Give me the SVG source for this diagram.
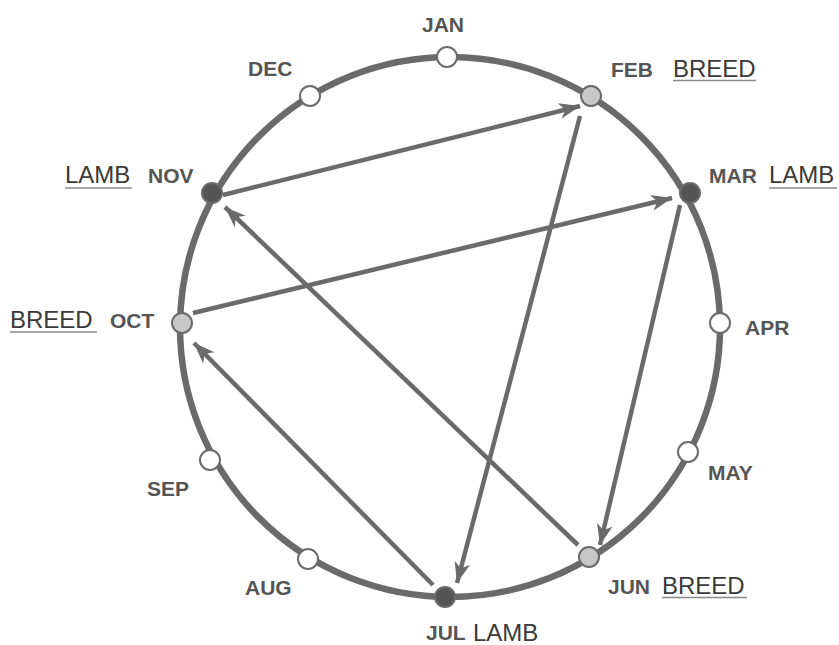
<svg xmlns="http://www.w3.org/2000/svg" width="839" height="645" viewBox="0 0 839 645">
<defs>
<marker id="ah" markerUnits="userSpaceOnUse" markerWidth="24" markerHeight="20" viewBox="-22 -10 24 20" refX="0" refY="0" orient="auto">
<path d="M0,0 L-21,-8 L-15,0 L-21,8 Z" fill="#6a6a6a"/>
</marker>
</defs>
<style>
.ring{fill:none;stroke:#6a6a6a;stroke-width:6.5}
.conn{stroke:#6a6a6a;stroke-width:4.5;fill:none;marker-end:url(#ah)}
.m{stroke:#6a6a6a;stroke-width:2}
.plain{fill:#ffffff}
.breed{fill:#c8c8c8}
.lamb{fill:#555555}
.mon{font-family:"Liberation Sans",Arial,sans-serif;font-weight:bold;font-size:21px;fill:#555555}
.act{font-family:"Liberation Sans",Arial,sans-serif;font-size:24px;fill:#3a3a3a}
.ul{stroke:#888888;stroke-width:1.5}
</style>
<rect width="839" height="645" fill="#ffffff"/>
<circle class="ring" cx="450" cy="327" r="270"/>
<g id="connectors">
<line class="conn" x1="223" y1="195" x2="580" y2="106"/>
<line class="conn" x1="193" y1="313" x2="672" y2="198"/>
<line class="conn" x1="580" y1="116" x2="457" y2="583"/>
<line class="conn" x1="680" y1="205" x2="600" y2="545"/>
<line class="conn" x1="578" y1="545" x2="225" y2="207"/>
<line class="conn" x1="433" y1="585" x2="194" y2="343"/>
</g>
<g id="jan"><circle class="m plain" cx="447" cy="57" r="10"/><text class="mon" x="443" y="32" text-anchor="middle">JAN</text></g>
<g id="feb"><circle class="m breed" cx="591" cy="96" r="10"/><text class="mon" x="611" y="77">FEB</text><text class="act" x="673" y="77">BREED</text><line class="ul" x1="673" y1="80.5" x2="756" y2="80.5"/></g>
<g id="mar"><circle class="m lamb" cx="690" cy="193" r="10"/><text class="mon" x="709" y="183">MAR</text><text class="act" x="769" y="183">LAMB</text><line class="ul" x1="769" y1="188" x2="837" y2="188"/></g>
<g id="apr"><circle class="m plain" cx="720" cy="323" r="10"/><text class="mon" x="745" y="335">APR</text></g>
<g id="may"><circle class="m plain" cx="688" cy="452" r="10"/><text class="mon" x="708" y="480">MAY</text></g>
<g id="jun"><circle class="m breed" cx="589" cy="557" r="10"/><text class="mon" x="608" y="594">JUN</text><text class="act" x="662" y="594">BREED</text><line class="ul" x1="662" y1="597.5" x2="747" y2="597.5"/></g>
<g id="jul"><circle class="m lamb" cx="445" cy="597" r="10"/><text class="mon" x="426" y="640">JUL</text><text class="act" x="473" y="641">LAMB</text></g>
<g id="aug"><circle class="m plain" cx="308" cy="559" r="10"/><text class="mon" x="245" y="595">AUG</text></g>
<g id="sep"><circle class="m plain" cx="210" cy="460" r="10"/><text class="mon" x="147" y="496">SEP</text></g>
<g id="oct"><circle class="m breed" cx="182" cy="323" r="10"/><text class="mon" x="110" y="328">OCT</text><text class="act" x="10" y="328">BREED</text><line class="ul" x1="10" y1="332" x2="97" y2="332"/></g>
<g id="nov"><circle class="m lamb" cx="212" cy="193" r="10"/><text class="mon" x="148" y="183">NOV</text><text class="act" x="65" y="183">LAMB</text><line class="ul" x1="65" y1="188" x2="132" y2="188"/></g>
<g id="dec"><circle class="m plain" cx="310" cy="96" r="10"/><text class="mon" x="248" y="76">DEC</text></g>
</svg>
